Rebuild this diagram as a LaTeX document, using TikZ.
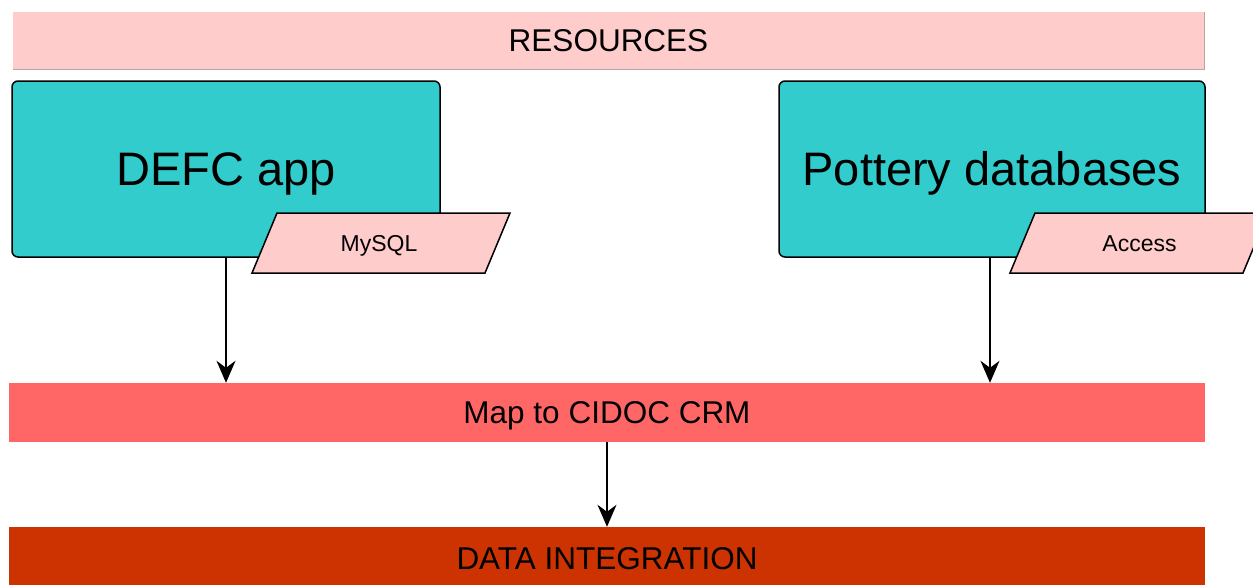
\documentclass[tikz,border=0pt]{standalone}
\usepackage{fontspec}
\setmainfont{Liberation Sans}
\usetikzlibrary{arrows.meta}
\definecolor{respink}{HTML}{FFCCCC}
\definecolor{tealbox}{HTML}{33CCCC}
\definecolor{mapred}{HTML}{FF6666}
\definecolor{datared}{HTML}{CC3300}
\definecolor{edgegray}{HTML}{B8A4A4}
\tikzset{
  bar/.style={rectangle, draw=none, inner sep=0pt, text height=22.7pt, text depth=0pt,
    font=\fontsize{31.5}{34}\selectfont},
  srcbox/.style={rectangle, draw=black, line width=1.5pt, rounded corners=6pt, fill=tealbox,
    inner sep=0pt, text height=33.8pt, text depth=0pt, font=\fontsize{47}{50}\selectfont},
  para/.style={draw=black, line width=1.5pt, fill=respink, line join=miter},
  paratext/.style={inner sep=0pt, text height=16.6pt, text depth=0pt, font=\fontsize{23}{26}\selectfont},
  flow/.style={line width=1.5pt, -{Stealth[length=22pt,width=19pt,inset=7pt]}}
}
\begin{document}
\begin{tikzpicture}[x=1pt,y=-1pt]
\useasboundingbox (0,0) rectangle (1253,584);
\fill[white] (0,0) rectangle (1253,584);
% bars
\node[bar, fill=respink, minimum width=1191pt, minimum height=57pt] (res) at (608.5,40.5) {RESOURCES};
\draw[edgegray, line width=1pt] (res.south west) -- (res.south east) -- (res.north east);
\node[bar, fill=mapred, minimum width=1196pt, minimum height=59pt] (map) at (607,412.5) {Map to CIDOC CRM};
\node[bar, fill=datared, minimum width=1196pt, minimum height=63pt] (data) at (607,558.5) {DATA INTEGRATION};
% source boxes
\node[srcbox, minimum width=428pt, minimum height=176pt] (defc) at (226,169) {DEFC app};
\node[srcbox, minimum width=426pt, minimum height=176pt] (pottery) at (992,169) {Pottery databases};
% parallelograms
\draw[para] (277,213) -- (510,213) -- (485,273) -- (252,273) -- cycle;
\node[paratext] (mysql) at (379,243) {MySQL};
\draw[para] (1035,213) -- (1268,213) -- (1243,273) -- (1010,273) -- cycle;
\node[paratext] (access) at (1139.5,243) {Access};
% connectors
\draw[flow] (defc.south) -- (defc.south |- map.north);
\draw[flow] ([xshift=-2pt]pottery.south) -- ([xshift=-2pt]pottery.south |- map.north);
\draw[flow] (map.south) -- (map.south |- data.north);
\end{tikzpicture}
\end{document}
